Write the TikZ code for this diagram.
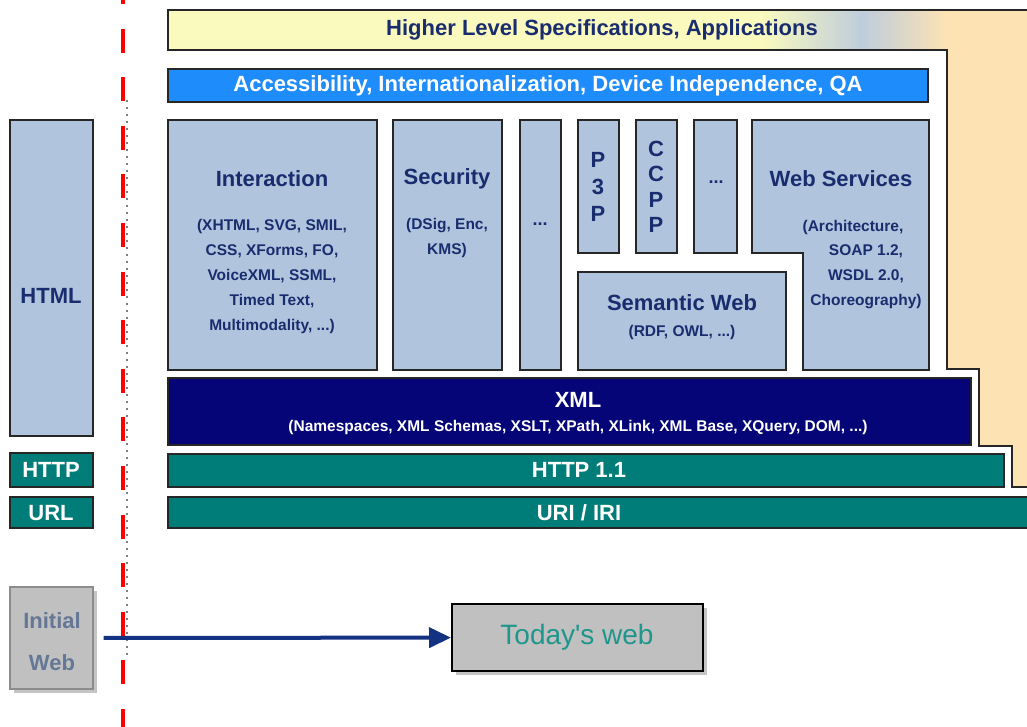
\documentclass[tikz,border=0pt]{standalone}
\usepackage{fontspec}
\setmainfont{Liberation Sans}
\usetikzlibrary{arrows.meta, fit, shadows}

\definecolor{boxblue}{RGB}{176,196,222}
\definecolor{txtnavy}{RGB}{25,45,110}
\definecolor{accblue}{RGB}{30,140,250}
\definecolor{xmlnavy}{RGB}{5,5,120}
\definecolor{tealbar}{RGB}{0,125,120}
\definecolor{hlyellow}{RGB}{250,250,190}
\definecolor{hlgrey}{RGB}{190,205,220}
\definecolor{hlpeach}{RGB}{253,226,180}
\definecolor{webgrey}{RGB}{192,192,192}
\definecolor{arrnavy}{RGB}{20,50,130}
\definecolor{todaytxt}{RGB}{30,150,140}
\definecolor{inittxt}{RGB}{100,120,150}

\begin{document}
\begin{tikzpicture}[x=1pt, y=-1pt,
  blk/.style={draw=black!85, line width=1.5pt, fill=boxblue, inner sep=0pt},
  darkblk/.style={blk, fill=xmlnavy},
  tealblk/.style={blk, fill=tealbar},
  ttl/.style={font=\bfseries\fontsize{22}{26}\selectfont, text=txtnavy, inner sep=0pt},
  wttl/.style={ttl, text=white},
  sub/.style={font=\bfseries\fontsize{15.5}{25}\selectfont, text=txtnavy, align=center, inner sep=0pt},
  wsub/.style={sub, text=white},
  webbox/.style={fill=webgrey, inner sep=0pt, drop shadow={shadow xshift=4pt, shadow yshift=-4pt, opacity=0.45}}]
\useasboundingbox (0,0) rectangle (1027,727);
\fill[white] (0,0) rectangle (1027,727);

% higher level region
\fill[hlpeach] (168,10) -- (1030,10) -- (1030,487) -- (1012,487) -- (1012,446) -- (979,446)
  -- (979,369) -- (947,369) -- (947,50) -- (168,50) -- cycle;
\fill[hlyellow] (168,10) rectangle (760,50);
\shade[left color=hlyellow, right color=hlgrey] (760,10) rectangle (862,50);
\shade[left color=hlgrey, right color=hlpeach] (862,10) rectangle (947,50);
\draw[line width=1.5pt, black!85] (1030,10) -- (168,10) -- (168,50) -- (947,50) -- (947,369)
  -- (979,369) -- (979,446) -- (1012,446) -- (1012,487) -- (1030,487);
\node[ttl] (hltext) at (602,30) {Higher Level Specifications, Applications};

% accessibility bar
\node[blk, fill=accblue, fit={(168,69) (928,102)}] (acc) {};
\node[wttl] (acctext) at (548,86) {Accessibility, Internationalization, Device Independence, QA};

% technology boxes
\node[blk, fit={(168,120) (377,370)}] (inter) {};
\node[ttl] (intertext) at (272,179) {Interaction};
\node[sub] (intersub) at (272,276) {(XHTML, SVG, SMIL,\\CSS, XForms, FO,\\VoiceXML, SSML,\\Timed Text,\\Multimodality, ...)};

\node[blk, fit={(393,120) (502,370)}] (secu) {};
\node[ttl] (secutext) at (447,179) {Security};
\node[sub] (secusub) at (447,238) {(DSig, Enc,\\KMS)};

\node[blk, fit={(520,120) (561,370)}] (dotsa) {};
\node[sub, font=\bfseries\fontsize{18}{20}\selectfont] (dotsatext) at (540,224) {...};

\node[blk, fit={(578,120) (619,253)}] (pthreep) {};
\node[ttl, align=center, font=\bfseries\fontsize{22}{27}\selectfont] (pthreeptext) at (598,187) {P\\3\\P};

\node[blk, fit={(636,120) (677,253)}] (ccpp) {};
\node[ttl, align=center, font=\bfseries\fontsize{22}{25.5}\selectfont] (ccpptext) at (656,187) {C\\C\\P\\P};

\node[blk, fit={(694,120) (737,253)}] (dotsb) {};
\node[sub, font=\bfseries\fontsize{18}{20}\selectfont] (dotsbtext) at (716,182) {...};

\fill[boxblue, draw=black!85, line width=1.5pt] (752,120) -- (929,120) -- (929,370) -- (803,370)
  -- (803,253) -- (752,253) -- cycle;
\node[ttl] (wstext) at (841,179) {Web Services};
\node[sub] (wssuba) at (853,227) {(Architecture,};
\node[sub] (wssubb) at (866,277) {SOAP 1.2,\\WSDL 2.0,\\Choreography)};

\node[blk, fit={(578,272) (786,370)}] (semweb) {};
\node[ttl] (semwebtext) at (682,303) {Semantic Web};
\node[sub] (semwebsub) at (682,332) {(RDF, OWL, ...)};

% base layers
\node[darkblk, fit={(168,378) (971,445)}] (xml) {};
\node[wttl] (xmltext) at (578,400) {XML};
\node[wsub] (xmlsub) at (578,427) {(Namespaces, XML Schemas, XSLT, XPath, XLink, XML Base, XQuery, DOM, ...)};

\node[tealblk, fit={(168,454) (1004,487)}] (http) {};
\node[wttl] (httptext) at (579,470) {HTTP 1.1};

\node[tealblk, fit={(168,497) (1040,528)}] (uri) {};
\node[wttl] (uritext) at (579,513) {URI / IRI};

% initial web column
\node[blk, fit={(10,120) (93,436)}] (html) {};
\node[ttl] (htmltext) at (51,296) {HTML};
\node[tealblk, fit={(10,453) (93,487)}] (lhttp) {};
\node[wttl] (lhttptext) at (51,470) {HTTP};
\node[tealblk, fit={(10,497) (93,528)}] (lurl) {};
\node[wttl] (lurltext) at (51,513) {URL};

% divider
\draw[red, line width=4.5pt, dash pattern=on 24pt off 24.6pt] (123,-20) -- (123,747);
\draw[black!50, line width=1.5pt, dash pattern=on 2pt off 5pt] (127,100) -- (127,660);

% legend
\node[webbox, draw=black!45, line width=1.2pt, fit={(10,587) (93,689)}] (init) {};
\node[ttl, text=inittxt] (inittext) at (52,621) {Initial};
\node[ttl, text=inittxt] (initweb) at (52,663) {Web};
\node[webbox, draw=black, line width=2pt, fit={(452,604) (703,671)}] (today) {};
\node[font=\fontsize{28}{30}\selectfont, text=todaytxt, inner sep=0pt] (todaytext) at (577,637) {Today\XeTeXglyph\the\XeTeXglyphindex "quotesingle"\relax s web};
\draw[-{Triangle[length=22pt, width=20pt]}, line width=4pt, arrnavy, shorten <=10pt] (init) -- (today);
\end{tikzpicture}
\end{document}
